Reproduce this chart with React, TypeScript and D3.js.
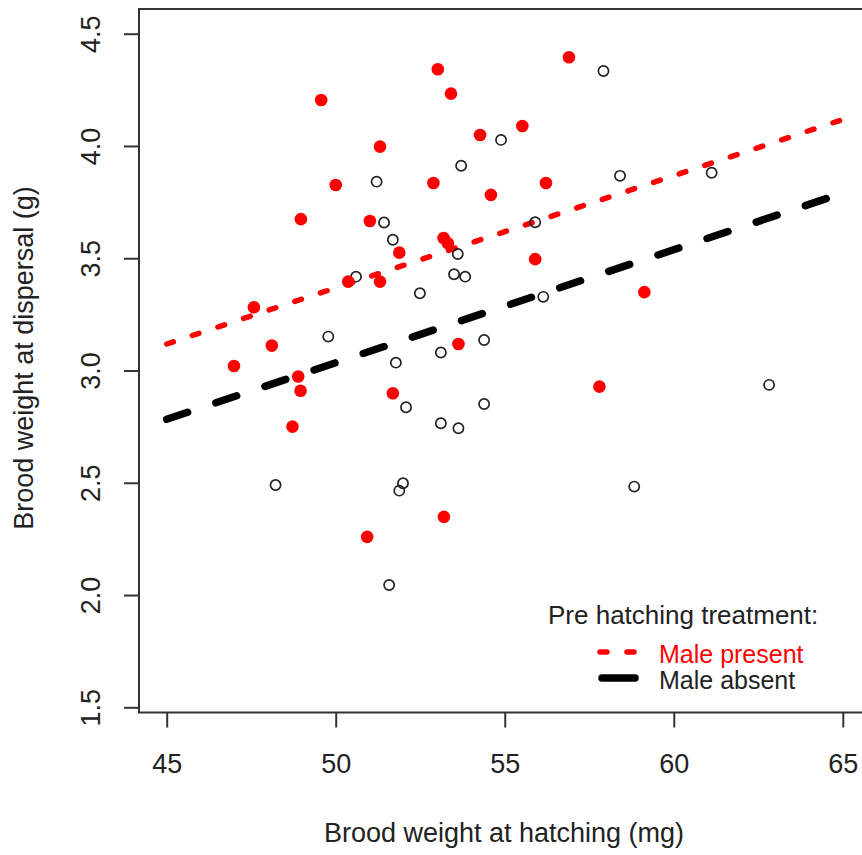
import React, { useRef, useEffect } from 'react';
import * as d3 from 'd3';

// Male present (red filled points)
const presentX = [56.9, 53.02, 53.41, 49.57, 54.27, 55.52, 51.31, 50.0, 48.97, 51.01, 52.89, 56.22, 54.59,
  53.19, 53.32, 51.88, 51.31, 50.37, 55.9, 47.58, 48.11, 46.99, 48.89, 48.96, 48.72, 51.69, 53.63, 59.13,
  57.8, 50.93, 53.2];
const presentY = [4.395, 4.342, 4.233, 4.205, 4.049, 4.089, 3.997, 3.826, 3.674, 3.666, 3.835, 3.835, 3.782,
  3.59, 3.566, 3.525, 3.396, 3.396, 3.496, 3.282, 3.111, 3.02, 2.973, 2.91, 2.75, 2.899, 3.118, 3.349,
  2.928, 2.259, 2.348];

// Male absent (open circles)
const absentX = [57.92, 54.89, 53.71, 51.21, 58.41, 61.12, 51.43, 51.69, 55.9, 56.14, 53.61, 53.5, 53.83,
  52.49, 50.6, 49.78, 51.78, 52.08, 53.11, 54.39, 53.11, 53.63, 54.39, 62.82, 48.22, 51.99, 51.88, 51.58, 58.83];
const absentY = [4.334, 4.027, 3.912, 3.841, 3.867, 3.881, 3.659, 3.582, 3.66, 3.328, 3.519, 3.429, 3.418,
  3.344, 3.418, 3.151, 3.035, 2.836, 3.08, 3.136, 2.765, 2.743, 2.851, 2.936, 2.49, 2.498, 2.465, 2.045, 2.483];

// fitted lines (ends)
const fitX = [45, 65];
const presentFit = [3.118, 4.118];
const absentFit = [2.783, 3.79];

const xTicks = [45, 50, 55, 60, 65];
const yTicks = [1.5, 2.0, 2.5, 3.0, 3.5, 4.0, 4.5];

const legendTitle = 'Pre hatching treatment:';
const legendLabels = ['Male present', 'Male absent'];

const FONT = '"Liberation Sans", Arial, sans-serif';

const App = () => {
  const svgRef = useRef<SVGSVGElement>(null);

  useEffect(() => {
    const svg = d3.select(svgRef.current);
    svg.selectAll('*').remove();

    const x = d3.scaleLinear().domain([45, 65]).range([166.7, 842.8]);
    const y = d3.scaleLinear().domain([1.5, 4.5]).range([707.3, 33.7]);

    const left = 139, top = 9, bottom = 712.5, right = 870;

    // box
    svg.append('rect')
      .attr('x', left).attr('y', top)
      .attr('width', right - left).attr('height', bottom - top)
      .attr('fill', 'none').attr('stroke', '#333').attr('stroke-width', 2);

    // x axis
    const xAxis = d3.axisBottom(x).tickValues(xTicks).tickSize(15).tickPadding(0).tickFormat(d3.format('d'));
    const gx = svg.append('g').attr('transform', `translate(0,${bottom})`).call(xAxis);
    gx.select('.domain').remove();
    gx.selectAll('line').attr('stroke', '#333').attr('stroke-width', 2);
    gx.selectAll('text')
      .attr('y', 60).attr('dy', null)
      .attr('fill', '#222').style('font-family', FONT).style('font-size', '27px');

    // y axis
    const yAxis = d3.axisLeft(y).tickValues(yTicks).tickSize(15).tickFormat(d3.format('.1f'));
    const gy = svg.append('g').attr('transform', `translate(${left},0)`).call(yAxis);
    gy.select('.domain').remove();
    gy.selectAll('line').attr('stroke', '#333').attr('stroke-width', 2);
    gy.selectAll('text')
      .attr('x', null).attr('dy', null)
      .attr('text-anchor', 'middle')
      .attr('transform', 'translate(-39,0) rotate(-90)')
      .attr('fill', '#222').style('font-family', FONT).style('font-size', '27px');

    // axis titles
    svg.append('text')
      .attr('x', 504).attr('y', 842)
      .attr('text-anchor', 'middle')
      .attr('fill', '#222').style('font-family', FONT).style('font-size', '27px')
      .text('Brood weight at hatching (mg)');

    svg.append('text')
      .attr('transform', 'translate(33,358) rotate(-90)')
      .attr('text-anchor', 'middle')
      .attr('fill', '#222').style('font-family', FONT).style('font-size', '27px')
      .text('Brood weight at dispersal (g)');

    // fitted lines
    const line = d3.line<number>().x((_, i) => x(fitX[i]));
    svg.append('path')
      .attr('d', line.y((d) => y(d))(presentFit))
      .attr('fill', 'none').attr('stroke', 'red').attr('stroke-width', 5.5)
      .attr('stroke-linecap', 'round').attr('stroke-dasharray', '7 20');
    svg.append('path')
      .attr('d', line.y((d) => y(d))(absentFit))
      .attr('fill', 'none').attr('stroke', 'black').attr('stroke-width', 7.5)
      .attr('stroke-linecap', 'round').attr('stroke-dasharray', '22 29.8');

    // points
    svg.append('g').selectAll('circle')
      .data(absentX)
      .enter()
      .append('circle')
      .attr('cx', (d) => x(d))
      .attr('cy', (_, i) => y(absentY[i]))
      .attr('r', 5.1)
      .attr('fill', 'none').attr('stroke', '#222').attr('stroke-width', 1.7);

    svg.append('g').selectAll('circle')
      .data(presentX)
      .enter()
      .append('circle')
      .attr('cx', (d) => x(d))
      .attr('cy', (_, i) => y(presentY[i]))
      .attr('r', 6.3)
      .attr('fill', 'red');

    // legend
    const lg = svg.append('g').style('font-family', FONT);
    lg.append('text').attr('x', 548).attr('y', 624).attr('fill', '#222')
      .style('font-size', '26px').text(legendTitle);
    lg.append('line')
      .attr('x1', 600).attr('x2', 640).attr('y1', 652).attr('y2', 652)
      .attr('stroke', 'red').attr('stroke-width', 5.5)
      .attr('stroke-linecap', 'round').attr('stroke-dasharray', '7 20');
    lg.append('line')
      .attr('x1', 602).attr('x2', 635).attr('y1', 678).attr('y2', 678)
      .attr('stroke', 'black').attr('stroke-width', 7.5).attr('stroke-linecap', 'round');
    lg.append('text').attr('x', 659).attr('y', 663).attr('fill', 'red')
      .style('font-size', '25px').text(legendLabels[0]);
    lg.append('text').attr('x', 659).attr('y', 689).attr('fill', '#222')
      .style('font-size', '25px').text(legendLabels[1]);
  }, []);

  return (
    <div>
      <svg ref={svgRef} width={862} height={855}
        style={{ position: 'absolute', left: 0, top: 0, background: '#fff' }}></svg>
    </div>
  );
};

export default App;
